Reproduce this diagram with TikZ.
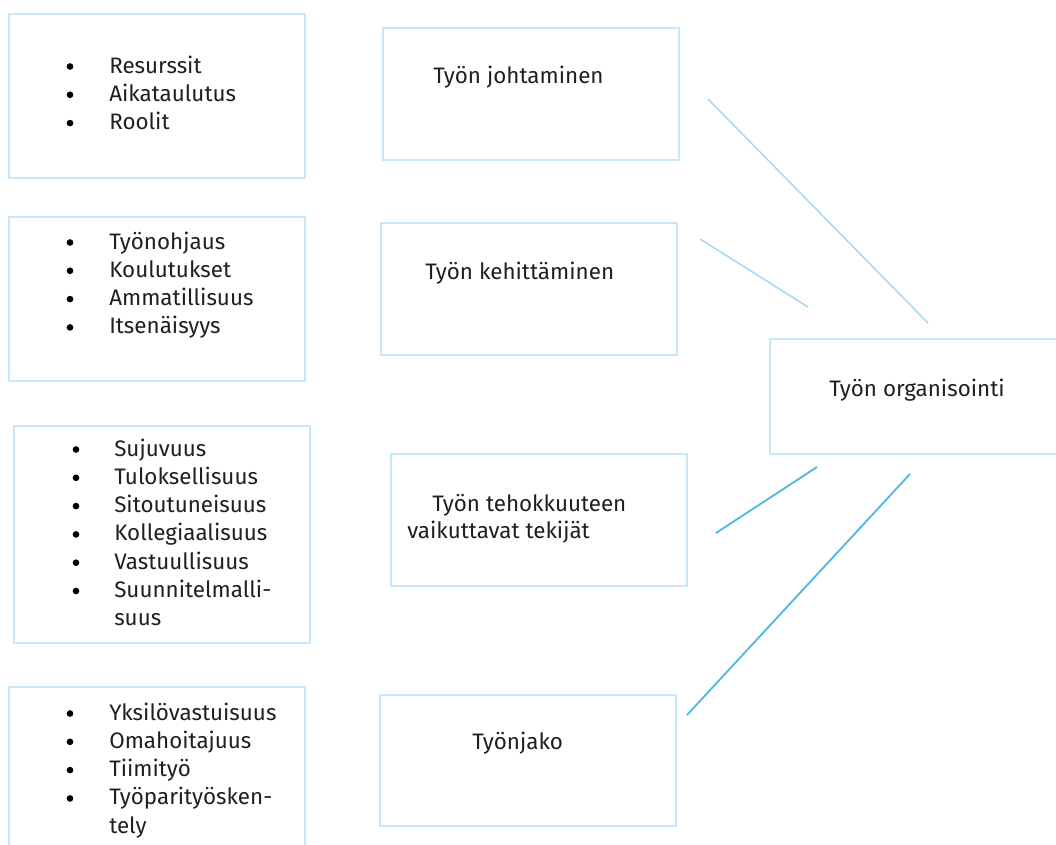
\documentclass[tikz,border=0pt]{standalone}
\usepackage{fontspec}
\setmainfont{Fira Sans}
\usetikzlibrary{positioning}
\definecolor{boxblue}{RGB}{198,232,250}
\definecolor{lineblue}{RGB}{165,214,246}
\definecolor{linedark}{RGB}{80,184,228}

\begin{document}
\begin{tikzpicture}[x=0.75pt,y=-0.75pt,
  box/.style={draw=boxblue,line width=1.2pt,inner sep=0pt},
  txt/.style={inner sep=0pt,anchor=base west,text=black!88,font=\fontsize{16.8}{20}\selectfont},
  dot/.style={circle,fill=black,inner sep=0pt,minimum size=5pt},
  link/.style={draw=lineblue,line width=1.1pt},
  darklink/.style={draw=linedark,line width=1.4pt}]
\def\d{28.3}
\useasboundingbox (0,0) rectangle (1056,844);
\clip (0,0) rectangle (1056,844);

% boxes
\foreach \x/\y/\w/\h/\n in {8/13/296/164/l1,8/216/296/164/l2,13/425/296/217/l3,8/686/296/180/l4,
    382/27/296/132/m1,380/222/296/132/m2,390/453/296/132/m3,379/694/296/131/m4,769/338/300/115/org}
  \node[box,anchor=north west,minimum width={\w*0.75pt},minimum height={\h*0.75pt}] (\n) at (\x,\y) {};

% lists
\foreach \t [count=\i from 0] in {Resurssit,Aikataulutus,Roolit}{
  \node[dot] (ba\i) at (70,73-6.5+\d*\i) {};
  \node[txt] (a\i) at (109,73+\d*\i) {\t};}
\foreach \t [count=\i from 0] in {Työnohjaus,Koulutukset,Ammatillisuus,Itsenäisyys}{
  \node[dot] (bb\i) at (70,249-6.5+\d*\i) {};
  \node[txt] (b\i) at (109,249+\d*\i) {\t};}
\foreach \t [count=\i from 0] in {Sujuvuus,Tuloksellisuus,Sitoutuneisuus,Kollegiaalisuus,Vastuullisuus,Suunnitelmalli-}{
  \node[dot] (bc\i) at (76,456-6.5+\d*\i) {};
  \node[txt] (c\i) at (114,456+\d*\i) {\t};}
\node[txt] (c6) at (114,456+\d*6) {suus};
\foreach \t [count=\i from 0] in {Yksilövastuisuus,Omahoitajuus,Tiimityö,Työparityösken-}{
  \node[dot] (bd\i) at (70,720-6.5+\d*\i) {};
  \node[txt] (d\i) at (109,720+\d*\i) {\t};}
\node[txt] (d4) at (109,720+\d*4) {tely};

% titles
\node[txt] (johto) at (433,83) {Työn johtaminen};
\node[txt] (kehit) at (425,279) {Työn kehittäminen};
\node[txt] (teho) at (432,511) {Työn tehokkuuteen};
\node[txt] (teki) at (407,538) {vaikuttavat tekijät};
\node[txt] (jako) at (472,749) {Työnjako};
\node[txt] (orga) at (829,396) {Työn organisointi};

% connectors
\coordinate (p1) at (708,99);  \coordinate (q1) at (928,323);
\coordinate (p2) at (700,239); \coordinate (q2) at (808,307);
\coordinate (p3) at (716,533); \coordinate (q3) at (817,467);
\coordinate (p4) at (687,715); \coordinate (q4) at (910,474);
\draw[link] (p1) -- (q1);
\draw[link] (p2) -- (q2);
\draw[darklink] (p3) -- (q3);
\draw[darklink] (p4) -- (q4);
\end{tikzpicture}
\end{document}
